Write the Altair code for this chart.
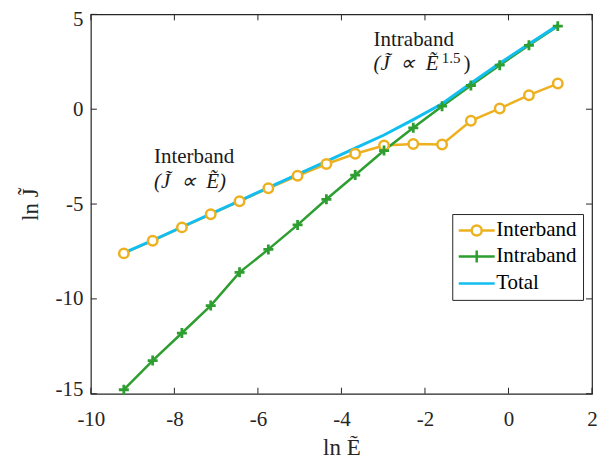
import altair as alt
import pandas as pd

# ---- data ----
lnE = [-9.21, -8.52, -7.82, -7.13, -6.44, -5.75, -5.05, -4.36,
       -3.67, -2.98, -2.28, -1.59, -0.90, -0.21, 0.49, 1.18]
inter = [-7.60, -6.93, -6.23, -5.54, -4.85, -4.17, -3.51, -2.89,
         -2.35, -1.91, -1.83, -1.86, -0.61, 0.04, 0.74, 1.35]
intra = [-14.79, -13.25, -11.80, -10.35, -8.60, -7.39, -6.10, -4.75,
         -3.47, -2.18, -0.98, 0.16, 1.25, 2.32, 3.37, 4.38]
total = [-7.58, -6.91, -6.21, -5.52, -4.83, -4.13, -3.44, -2.75,
         -2.05, -1.36, -0.55, 0.29, 1.37, 2.42, 3.44, 4.42]
series = ["Interband", "Intraband", "Total"]
colors = ["#EDB120", "#2E9E30", "#12BEF0"]
xticks = [-10, -8, -6, -4, -2, 0, 2]
yticks = [-15, -10, -5, 0, 5]

SP = "\u2002"
ann_text = ["Interband", "(J\u0303" + SP + "\u221d" + SP + "\u1EBC)", "Intraband",
            "(J\u0303" + SP + "\u221d" + SP + "\u1EBC", "1.5", ")"]
ann_x = [-8.49, -8.49, -3.23, -3.23, -1.60, -1.08]
ann_y = [-2.84, -4.16, 3.32, 2.05, 2.42, 2.05]
ann_size = [21, 21, 21, 21, 15, 21]
ann_italic = [False, True, False, True, False, False]

W, H = 502, 380
FONT = "Liberation Serif"

df_inter = pd.DataFrame({"x": lnE, "y": inter, "s": "Interband"})
df_intra = pd.DataFrame({"x": lnE, "y": intra, "s": "Intraband"})
df_total = pd.DataFrame({"x": lnE, "y": total, "s": "Total"})
df_all = pd.concat([df_inter, df_intra, df_total])
df_ann = pd.DataFrame({"x": ann_x, "y": ann_y, "t": ann_text, "size": ann_size, "it": ann_italic})
df_xt = pd.DataFrame({"v": xticks})
df_yt = pd.DataFrame({"v": yticks})

xs = alt.Scale(domain=[-10, 2], nice=False)
ys = alt.Scale(domain=[-15, 5], nice=False)

xaxis = alt.Axis(values=xticks, labelExpr="'' + datum.value", ticks=False, grid=False,
                 title="ln \u1EBC", labelFontSize=21, titleFontSize=23, labelPadding=15,
                 titlePadding=7, labelFont=FONT, titleFont=FONT, labelColor="#262626",
                 titleColor="#262626", titleFontWeight="normal", domain=False,
                 labelFlush=False)
yaxis = alt.Axis(values=yticks, labelExpr="'' + datum.value", ticks=False, grid=False,
                 title="ln J\u0303", labelFontSize=21, titleFontSize=23, labelPadding=8,
                 titlePadding=12, labelFont=FONT, titleFont=FONT, labelColor="#262626",
                 titleColor="#262626", titleFontWeight="normal", domain=False,
                 labelFlush=True, labelFlushOffset=6)

X = alt.X("x:Q", scale=xs, axis=xaxis)
Y = alt.Y("y:Q", scale=ys, axis=yaxis)

line_inter = alt.Chart(df_inter).mark_line(color=colors[0], strokeWidth=2.5).encode(x=X, y=Y)
line_intra = alt.Chart(df_intra).mark_line(color=colors[1], strokeWidth=2.5).encode(x=X, y=Y)
line_total = alt.Chart(df_total).mark_line(color=colors[2], strokeWidth=3).encode(x=X, y=Y)

pts_inter = alt.Chart(df_inter).mark_point(shape="circle", size=90, filled=True, fill="white",
                                           stroke=colors[0], strokeWidth=2.5, opacity=1).encode(x=X, y=Y)
plus_path = "M -1 0 L 1 0 M 0 -1 L 0 1"
pts_intra = alt.Chart(df_intra).mark_point(shape=plus_path, size=100, filled=False,
                                           stroke=colors[1], strokeWidth=2.8, opacity=1).encode(x=X, y=Y)

leg_shapes = [
    "M -3.6 0 L -1 0 M 1 0 L 3.6 0 M 1 0 A 1 1 0 1 1 -1 0 A 1 1 0 1 1 1 0",
    "M -3.6 0 L 3.6 0 M 0 -1.2 L 0 1.2",
    "M -3.6 0 L 3.6 0",
]
legend = alt.Legend(title=None, orient="none", legendX=362, legendY=200,
                    labelFont=FONT, labelFontSize=21, labelColor="black",
                    strokeColor="#262626", fillColor="white", padding=6,
                    symbolSize=100, symbolStrokeWidth=2.5, symbolOpacity=1,
                    symbolOffset=8, labelOffset=9, rowPadding=4,
                    symbolFillColor="transparent")
leg_layer = alt.Chart(df_all).mark_point(opacity=0, filled=False, size=100).encode(
    x=X, y=Y,
    color=alt.Color("s:N", scale=alt.Scale(domain=series, range=colors), legend=legend),
    shape=alt.Shape("s:N", scale=alt.Scale(domain=series, range=leg_shapes), legend=legend),
)

ann_n = alt.Chart(df_ann).transform_filter("!datum.it").mark_text(
    align="left", baseline="alphabetic", font=FONT, color="#1a1a1a").encode(
    x=X, y=Y, text="t:N", size=alt.Size("size:Q", scale=None, legend=None))
ann_i = alt.Chart(df_ann).transform_filter("datum.it").mark_text(
    align="left", baseline="alphabetic", font=FONT, color="#1a1a1a", fontStyle="italic").encode(
    x=X, y=Y, text="t:N", size=alt.Size("size:Q", scale=None, legend=None))

tick_col = "#262626"
tb = alt.Chart(df_xt).mark_rule(color=tick_col, strokeWidth=1).encode(
    x=alt.X("v:Q", scale=xs), y=alt.value(H), y2=alt.value(H - 6))
tt = alt.Chart(df_xt).mark_rule(color=tick_col, strokeWidth=1).encode(
    x=alt.X("v:Q", scale=xs), y=alt.value(0), y2=alt.value(6))
tl = alt.Chart(df_yt).mark_rule(color=tick_col, strokeWidth=1).encode(
    y=alt.Y("v:Q", scale=ys), x=alt.value(0), x2=alt.value(6))
tr = alt.Chart(df_yt).mark_rule(color=tick_col, strokeWidth=1).encode(
    y=alt.Y("v:Q", scale=ys), x=alt.value(W), x2=alt.value(W - 6))

chart = alt.layer(
    tb, tt, tl, tr,
    line_inter, line_intra, line_total,
    pts_inter, pts_intra,
    leg_layer, ann_n, ann_i,
).properties(
    width=W, height=H,
    background="white",
    autosize=alt.AutoSizeParams(type="none"),
    padding={"left": 83, "top": 6, "right": 6, "bottom": 66},
).configure_view(stroke="#262626", strokeWidth=1.2)

chart.save("out.html", embed_options={"renderer": "svg", "actions": False})
